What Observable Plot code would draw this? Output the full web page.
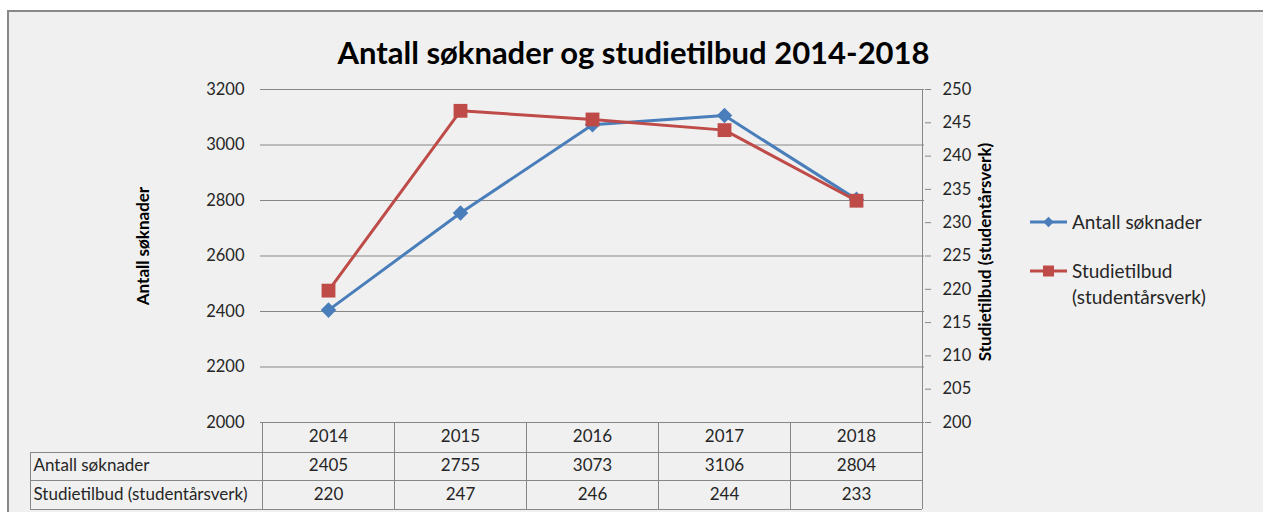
<!DOCTYPE html>
<html><head><meta charset="utf-8">
<script src="https://cdn.jsdelivr.net/npm/d3@7"></script>
<script src="https://cdn.jsdelivr.net/npm/@observablehq/plot@0.6"></script>
<style>body{margin:0;background:#fff;overflow:hidden;} svg{display:block;}</style>
</head><body><div id="chart"></div>
<script>
const title = "Antall søknader og studietilbud 2014-2018";
const years = ["2014", "2015", "2016", "2017", "2018"];
const seriesNames = ["Antall søknader", "Studietilbud (studentårsverk)"];
const soknader = [2405, 2755, 3073, 3106, 2804];
const studietilbud = [219.8, 246.8, 245.5, 243.9, 233.3];
const studietilbudTabell = [220, 247, 246, 244, 233];
const leftTicks = [2000, 2200, 2400, 2600, 2800, 3000, 3200];
const rightTicks = [200, 205, 210, 215, 220, 225, 230, 235, 240, 245, 250];
const colors = ["#4A7EBB", "#BE4B48"];

const L0 = 2000, L1 = 3200, R0 = 200, R1 = 250;
const toLeft = v => L0 + (v - R0) * (L1 - L0) / (R1 - R0);
const fromLeft = v => R0 + (v - L0) * (R1 - R0) / (L1 - L0);

const blue = years.map((y, i) => ({year: y, value: soknader[i]}));
const red = years.map((y, i) => ({year: y, value: toLeft(studietilbud[i])}));

const FONT = "Lato, sans-serif";
const TXT = "#262626";
const GRID = "#878787";
const TABLE_FS = 17;

const chart = Plot.plot({
  width: 1263, height: 512,
  marginLeft: 260, marginRight: 339, marginTop: 89, marginBottom: 90,
  style: {background: "transparent", fontFamily: FONT, fontSize: "16px", color: TXT, overflow: "visible"},
  x: {type: "point", domain: years, padding: 0.5, axis: null},
  y: {domain: [L0, L1], axis: null},
  marks: [
    Plot.ruleY(leftTicks, {stroke: GRID, strokeWidth: 1}),
    Plot.axisY({anchor: "left", ticks: leftTicks, tickSize: 0, tickPadding: 16, label: null, fontSize: 16.5, tickFormat: d => String(d), fill: TXT}),
    Plot.axisY({anchor: "right", ticks: rightTicks.map(toLeft), tickSize: 6, tickPadding: 12, label: null, fontSize: 16.5,
      tickFormat: d => String(Math.round(fromLeft(d))), stroke: GRID, fill: TXT}),
    Plot.text([title], {frameAnchor: "top", lineAnchor: "middle", textAnchor: "middle", dx: 41, dy: -35, fontSize: 31, fontWeight: "bold", fill: "#000"}),
    Plot.text([seriesNames[0]], {frameAnchor: "left", textAnchor: "middle", lineAnchor: "middle", dx: -117, dy: -10, rotate: -90, fontSize: 17, fontWeight: "bold", fill: "#000"}),
    Plot.text([seriesNames[1]], {frameAnchor: "right", textAnchor: "middle", lineAnchor: "middle", dx: 61, dy: -4, rotate: -90, fontSize: 17, fontWeight: "bold", fill: "#000"}),
    Plot.text(years, {x: d => d, frameAnchor: "bottom", lineAnchor: "middle", dy: 14.5, fontSize: TABLE_FS, fill: TXT}),
    Plot.text(years, {x: d => d, text: (d, i) => String(soknader[i]), frameAnchor: "bottom", lineAnchor: "middle", dy: 43.5, fontSize: TABLE_FS, fill: TXT}),
    Plot.text(years, {x: d => d, text: (d, i) => String(studietilbudTabell[i]), frameAnchor: "bottom", lineAnchor: "middle", dy: 72, fontSize: TABLE_FS, fill: TXT}),
    Plot.text([seriesNames[0]], {frameAnchor: "bottom-left", lineAnchor: "middle", dx: -227, dy: 43.5, textAnchor: "start", fontSize: TABLE_FS, fill: TXT}),
    Plot.text([seriesNames[1]], {frameAnchor: "bottom-left", lineAnchor: "middle", dx: -227, dy: 72, textAnchor: "start", fontSize: TABLE_FS, fill: TXT}),
    Plot.line(blue, {x: "year", y: "value", stroke: colors[0], strokeWidth: 3}),
    Plot.dot(blue, {x: "year", y: "value", symbol: "diamond2", r: 7, fill: colors[0]}),
    Plot.line(red, {x: "year", y: "value", stroke: colors[1], strokeWidth: 3}),
    Plot.dot(red, {x: "year", y: "value", symbol: "square", r: 7.8, fill: colors[1]})
  ]
});

const svg = d3.select(chart);
svg.insert("rect", ":first-child")
  .attr("x", 8).attr("y", 11).attr("width", 1400).attr("height", 700)
  .attr("fill", "#f0f0f0").attr("stroke", "#888").attr("stroke-width", 2);

const xs = chart.scale("x"), ys = chart.scale("y");
const step = xs.apply(years[1]) - xs.apply(years[0]);
const rightEdge = xs.apply(years[years.length - 1]) + step / 2;
const frameTop = ys.apply(L1), frameBottom = ys.apply(L0);
const rows = [frameBottom + 30, frameBottom + 58, frameBottom + 87];
const tableLeft = 30;

const g = svg.append("g").attr("stroke", GRID).attr("stroke-width", 1).attr("shape-rendering", "crispEdges");
g.append("line").attr("x1", rightEdge).attr("x2", rightEdge).attr("y1", frameTop).attr("y2", rows[2]);
rows.forEach(r => g.append("line").attr("x1", tableLeft).attr("x2", rightEdge).attr("y1", r).attr("y2", r));
for (let i = 0; i < years.length; i++) {
  const xe = xs.apply(years[i]) - step / 2;
  g.append("line").attr("x1", xe).attr("x2", xe).attr("y1", frameBottom).attr("y2", rows[2]);
}
g.append("line").attr("x1", tableLeft).attr("x2", tableLeft).attr("y1", rows[0]).attr("y2", rows[2]);

const lg = svg.append("g").attr("font-family", FONT).attr("font-size", 19).attr("fill", TXT).attr("text-anchor", "start");
const legendItems = [
  {name: [seriesNames[0]], color: colors[0], y: 222, sym: d3.symbolDiamond2, size: 70},
  {name: ["Studietilbud", "(studentårsverk)"], color: colors[1], y: 271, sym: d3.symbolSquare, size: 120}
];
legendItems.forEach(it => {
  lg.append("line").attr("x1", 1030).attr("x2", 1067).attr("y1", it.y).attr("y2", it.y)
    .attr("stroke", it.color).attr("stroke-width", 3);
  lg.append("path").attr("d", d3.symbol(it.sym, it.size)()).attr("transform", `translate(1048.5,${it.y})`).attr("fill", it.color);
  it.name.forEach((t, k) => lg.append("text").attr("x", 1072).attr("y", it.y + k * 26).attr("dy", "0.35em").text(t));
});

document.getElementById("chart").appendChild(chart);
</script>
</body></html>
